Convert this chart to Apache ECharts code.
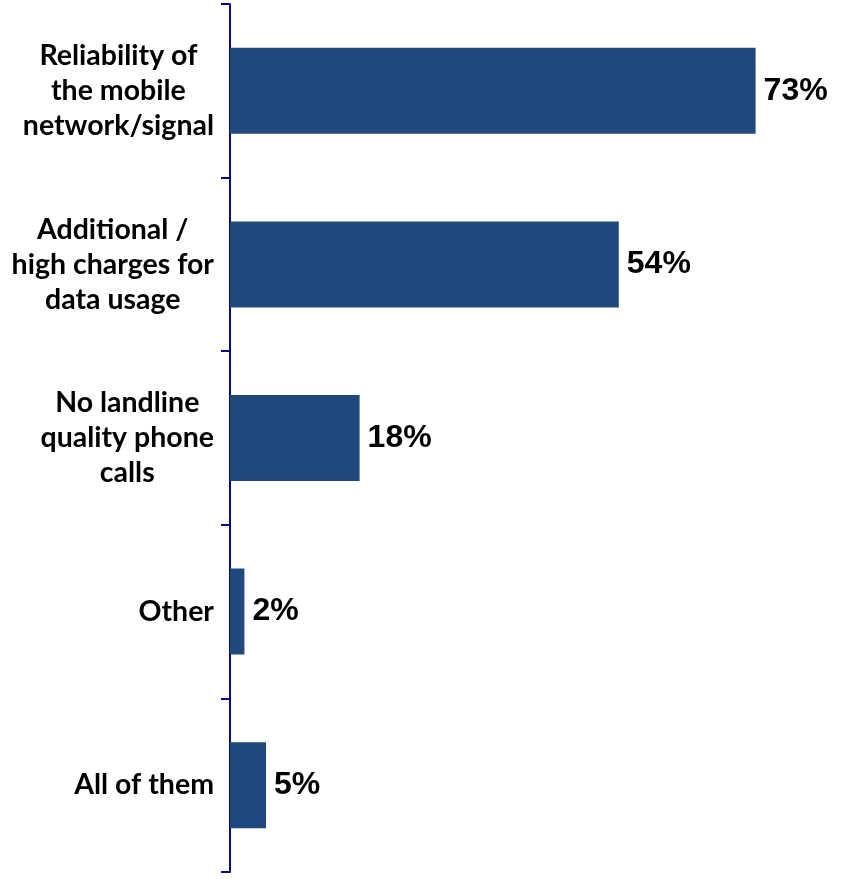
<!DOCTYPE html>
<html>
<head>
<meta charset="utf-8">
<script src="https://cdn.jsdelivr.net/npm/echarts@6/dist/echarts.min.js"></script>
<style>
  html, body { margin: 0; padding: 0; background: #ffffff; }
  #chart { width: 846px; height: 879px; }
</style>
</head>
<body>
<div id="chart"></div>
<script>
// Reasons given, top to bottom
const categories = [
  'Reliability of\nthe mobile\nnetwork/signal',
  'Additional /\nhigh charges for\ndata usage',
  'No landline\nquality phone\ncalls',
  'Other',
  'All of them'
];
// Share of respondents, percent
const shares = [73, 54, 18, 2, 5];

const chart = echarts.init(document.getElementById('chart'), null, { renderer: 'canvas' });

chart.setOption({
  animation: false,
  backgroundColor: '#ffffff',
  grid: { left: 230, right: 40, top: 4, bottom: 7, containLabel: false },
  xAxis: {
    type: 'value',
    min: 0,
    max: 80,
    show: false
  },
  yAxis: {
    type: 'category',
    inverse: true,
    data: categories,
    axisLine: { show: true, lineStyle: { color: '#0a0a80', width: 2 } },
    axisTick: { show: true, length: 9, lineStyle: { color: '#0a0a80', width: 2 } },
    axisLabel: {
      margin: 16,
      align: 'right',
      formatter: function (value) {
        return value.split('\n').map(function (line) { return '{c|' + line + '}'; }).join('\n');
      },
      rich: {
        c: {
          align: 'center',
          fontFamily: 'Lato',
          fontWeight: 'bold',
          fontSize: 28.5,
          lineHeight: 35,
          color: '#000000'
        }
      }
    },
    splitLine: { show: false }
  },
  series: [{
    type: 'bar',
    data: shares,
    barWidth: 86,
    itemStyle: { color: '#1F497D' },
    label: {
      show: true,
      position: 'right',
      distance: 8,
      formatter: '{c}%',
      fontFamily: 'Liberation Sans',
      fontWeight: 'bold',
      fontSize: 32,
      color: '#000000'
    }
  }]
});
</script>
</body>
</html>
